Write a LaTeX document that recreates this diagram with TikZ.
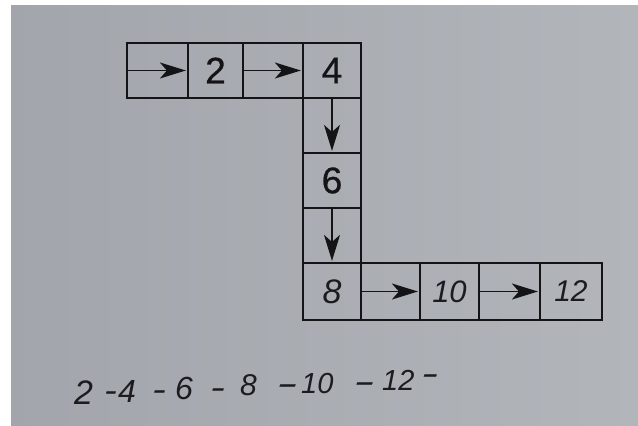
\documentclass[tikz,border=0pt]{standalone}
\usepackage{fontspec}
\usepackage{graphicx}
\setmainfont{Liberation Sans}
\newfontfamily\boxfont[FakeBold=0.7]{Liberation Sans}
\usetikzlibrary{arrows.meta}
\definecolor{paperL}{RGB}{162,166,172}
\definecolor{paperR}{RGB}{178,181,186}
\definecolor{ink}{RGB}{20,20,22}
\definecolor{pen}{RGB}{28,28,32}
\newcommand{\dsh}[1][1.8]{\scalebox{#1}[1]{-}}
\tikzset{
  cell/.style={draw=ink, line width=2.2pt, inner sep=0pt, minimum height=55pt},
  val/.style={cell, font=\boxfont\fontsize{37}{37}\selectfont, text=ink},
  hand/.style={cell, font=\fontsize{34}{34}\selectfont\itshape, text=pen},
  ptr/.style={draw=ink, line width=1.8pt, -{Stealth[length=26pt,width=16pt,inset=7pt]}, shorten >=1pt},
  seqtxt/.style={anchor=base west, inner sep=0pt, text=pen, font=\fontsize{#1}{#1}\selectfont\itshape},
  seqtxt/.default=32,
}
\begin{document}
\begin{tikzpicture}[x=1pt,y=-1pt]
\useasboundingbox (0,0) rectangle (638,426);
\fill[white] (0,0) rectangle (638,426);
\shade[left color=paperL, right color=paperR] (11,5) rectangle (638,426);
% top row
\node[cell, minimum width=61pt] (p1) at (157.5,70.5) {};
\node[val,  minimum width=55pt] (n2) at (215.5,70.5) {2};
\node[cell, minimum width=60pt] (p2) at (273,70.5) {};
\node[val,  minimum width=58pt] (n4) at (332,70.5) {4};
% column
\node[cell, minimum width=58pt] (p3) at (332,125.5) {};
\node[val,  minimum width=58pt] (n6) at (332,180.5) {6};
\node[cell, minimum width=58pt] (p4) at (332,235.5) {};
\node[hand, minimum width=58pt, minimum height=57pt] (n8) at (332,291.5) {8};
% bottom row
\node[cell, minimum width=59pt, minimum height=57pt] (p5) at (390.5,291.5) {};
\node[hand, minimum width=59pt, minimum height=57pt, font=\fontsize{31}{31}\selectfont\itshape] (n10) at (449.5,291.5) {10};
\node[cell, minimum width=61pt, minimum height=57pt] (p6) at (509.5,291.5) {};
\node[hand, minimum width=62pt, minimum height=57pt, font=\fontsize{30}{30}\selectfont\itshape] (n12) at (571,291.5) {12};
% pointers
\draw[ptr] (p1.west) -- (n2.west);
\draw[ptr] (p2.west) -- (n4.west);
\draw[ptr] (p3.north) -- (n6.north);
\draw[ptr] (p4.north) -- (n8.north);
\draw[ptr] (p5.west) -- (n10.west);
\draw[ptr] (p6.west) -- (n12.west);
% handwritten sequence
\node[seqtxt=34] (s1) at (74,404) {2};
\node[seqtxt] (d1) at (104,401) {\dsh[1.2]};
\node[seqtxt] (s2) at (118,402) {4};
\node[seqtxt] (d2) at (152,400) {\dsh[1.3]};
\node[seqtxt] (s3) at (175,399) {6};
\node[seqtxt] (d3) at (210,398) {\dsh[1.4]};
\node[seqtxt=30] (s4) at (240,395) {8};
\node[seqtxt] (d4) at (276,394) {\dsh[2]};
\node[seqtxt=29] (s5) at (301,393) {10};
\node[seqtxt] (d5) at (353,392) {\dsh[2]};
\node[seqtxt=29] (s6) at (382,390) {12};
\node[seqtxt] (d6) at (421,384) {\dsh[1.6]};
\end{tikzpicture}
\end{document}
